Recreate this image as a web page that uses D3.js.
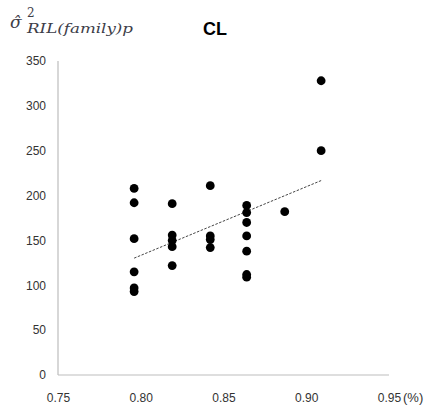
<!DOCTYPE html>
<html><head><meta charset="utf-8">
<script src="https://cdn.jsdelivr.net/npm/d3@7"></script>
<style>body{margin:0;background:#fff}svg{display:block}</style>
</head><body>
<script>
const xTicks = [0.75, 0.80, 0.85, 0.90, 0.95];
const yTicks = [0, 50, 100, 150, 200, 250, 300, 350];
const xVals = [0.796,0.796,0.796,0.796,0.796,0.796,
  0.819,0.819,0.819,0.819,0.819,
  0.842,0.842,0.842,0.842,
  0.864,0.864,0.864,0.864,0.864,0.864,0.864,
  0.887,
  0.909,0.909];
const yVals = [208,192,152,115,97,93,
  191,156,150,143,122,
  211,155,151,142,
  189,181,170,155,138,112,109,
  182,
  328,250];

const W=430,H=414;
const svg=d3.select("body").append("svg").attr("width",W).attr("height",H);
const x=d3.scaleLinear().domain([0.75,0.95]).range([58,389]);
const y=d3.scaleLinear().domain([0,350]).range([375,61]);
const font="'Liberation Sans', Arial, sans-serif";

// axes lines
svg.append("line").attr("x1",x(0.75)).attr("x2",x(0.95)).attr("y1",y(0)).attr("y2",y(0)).attr("stroke","#bdbdbd").attr("stroke-width",1.2);
svg.append("line").attr("x1",x(0.75)).attr("x2",x(0.75)).attr("y1",y(0)).attr("y2",y(350)).attr("stroke","#bdbdbd").attr("stroke-width",1.2);

const yAxis=d3.axisLeft(y).tickValues(yTicks).tickSize(0).tickPadding(12).tickFormat(d3.format("d"));
const gy=svg.append("g").attr("transform",`translate(${x(0.75)},0)`).call(yAxis);
gy.select(".domain").remove();
gy.selectAll("text").attr("font-family",font).attr("font-size",12).attr("fill","#333");

const xAxis=d3.axisBottom(x).tickValues(xTicks).tickSize(0).tickPadding(18).tickFormat(d3.format(".2f"));
const gx=svg.append("g").attr("transform",`translate(0,${y(0)})`).call(xAxis);
gx.select(".domain").remove();
gx.selectAll("text").attr("font-family",font).attr("font-size",12).attr("fill","#333");
svg.append("text").attr("x",x(0.95)+14).attr("y",y(0)+26.5).attr("font-family",font).attr("font-size",13).attr("fill","#333").text("(%)");

// regression trendline
const n=xVals.length, mx=d3.mean(xVals), my=d3.mean(yVals);
let sxy=0,sxx=0;
for(let i=0;i<n;i++){sxy+=(xVals[i]-mx)*(yVals[i]-my);sxx+=(xVals[i]-mx)**2;}
const b=sxy/sxx,a=my-b*mx;
const x0=d3.min(xVals),x1=d3.max(xVals);
svg.append("line").attr("x1",x(x0)).attr("y1",y(a+b*x0)).attr("x2",x(x1)).attr("y2",y(a+b*x1))
  .attr("stroke","#444").attr("stroke-width",1).attr("stroke-dasharray","2.5,1.5");

// points
svg.selectAll("circle.pt").data(d3.range(n)).join("circle").attr("class","pt")
  .attr("cx",i=>x(xVals[i])).attr("cy",i=>y(yVals[i])).attr("r",4.4).attr("fill","#000");

// title
svg.append("text").attr("x",215).attr("y",35).attr("text-anchor","middle").attr("font-family",font)
  .attr("font-weight","bold").attr("font-size",18).attr("fill","#000").text("CL");

// y label (math)
const lab=svg.append("g").attr("fill","#3d3d48").attr("font-family","'DejaVu Serif', 'Liberation Serif', serif").attr("font-style","italic");
lab.append("text").attr("x",10).attr("y",28).attr("font-size",17).text("σ\u0302");
lab.append("text").attr("x",27).attr("y",17).attr("font-size",12).attr("font-style","normal").text("2");
lab.append("text").attr("x",27).attr("y",33).attr("font-size",12).attr("textLength",106).attr("lengthAdjust","spacingAndGlyphs").text("RIL(family)p");
</script>
</body></html>
